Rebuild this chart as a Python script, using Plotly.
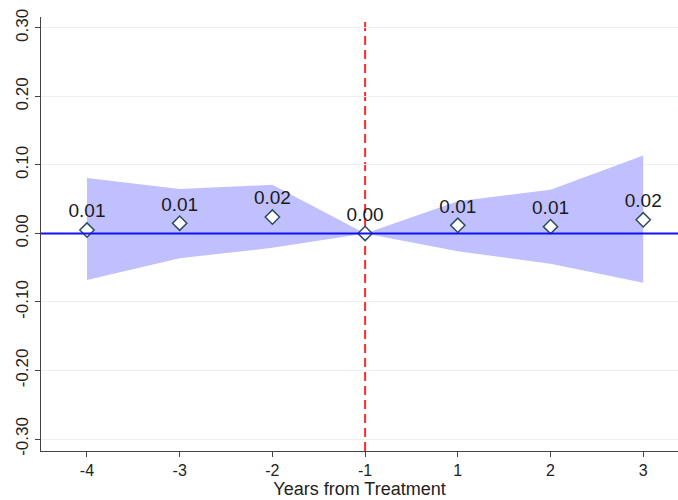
import plotly.graph_objects as go

categories = ["-4", "-3", "-2", "-1", "1", "2", "3"]
estimates = [0.005, 0.015, 0.024, 0.0, 0.012, 0.010, 0.020]
labels = ["0.01", "0.01", "0.02", "0.00", "0.01", "0.01", "0.02"]
ci_upper = [0.081, 0.065, 0.071, 0.0, 0.047, 0.064, 0.114]
ci_lower = [-0.068, -0.036, -0.021, 0.0, -0.026, -0.044, -0.072]
y_ticks = [-0.30, -0.20, -0.10, 0.00, 0.10, 0.20, 0.30]

idx = list(range(len(categories)))
font_family = "Arial, Liberation Sans, sans-serif"

fig = go.Figure()
# confidence band
fig.add_trace(go.Scatter(x=idx, y=ci_upper, mode="lines", line=dict(width=0),
                         hoverinfo="skip", showlegend=False))
fig.add_trace(go.Scatter(x=idx, y=ci_lower, mode="lines", line=dict(width=0),
                         fill="tonexty", fillcolor="rgb(192,192,255)",
                         hoverinfo="skip", showlegend=False))

fig.add_hline(y=0, line=dict(color="#1010ff", width=1.8), layer="above")
fig.add_vline(x=categories.index("-1"), line=dict(color="#ff2a2a", width=2, dash="9px,5px"), layer="below")

fig.add_trace(go.Scatter(
    x=idx, y=estimates, mode="markers+text", text=labels, textposition="top center",
    textfont=dict(size=19, color="#1a1a1a", family=font_family),
    marker=dict(symbol="diamond", size=11, color="white", line=dict(color="#2e4d5c", width=1.5)),
    showlegend=False, cliponaxis=False))

fig.update_layout(
    width=678, height=500,
    margin=dict(l=41, r=0, t=17, b=49),
    paper_bgcolor="white", plot_bgcolor="white",
    font=dict(family=font_family, color="#333333"),
    xaxis=dict(range=[-0.496, 6.375], tickmode="array", tickvals=idx, ticktext=categories,
               showgrid=False, zeroline=False, showline=True, linecolor="#444444", linewidth=1,
               ticks="outside", ticklen=5, tickcolor="#444444",
               tickfont=dict(size=16, color="#222222"),
               title=dict(text="Years from Treatment", font=dict(size=18, color="#222222"), standoff=1)),
    yaxis=dict(range=[-0.3175, 0.316], tickmode="array", tickvals=y_ticks,
               ticktext=[f"{v:.2f}" for v in y_ticks], tickangle=-90,
               showgrid=True, gridcolor="#eaf1f1", gridwidth=1, zeroline=False,
               showline=True, linecolor="#444444", linewidth=1,
               ticks="outside", ticklen=5, tickcolor="#444444",
               tickfont=dict(size=17, color="#222222")),
)

fig.write_html("out.html")
